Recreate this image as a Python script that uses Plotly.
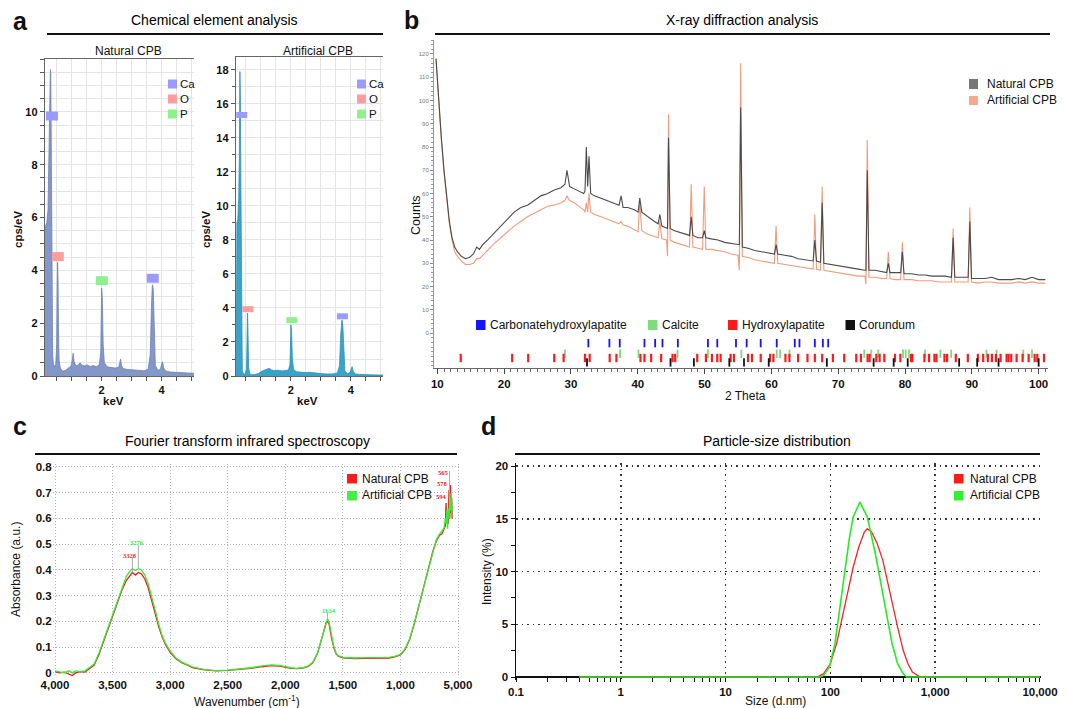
import plotly.graph_objects as go

W, H = 1068, 708
FONT = "Arial, Liberation Sans, sans-serif"

def px(x):
    return x / W

def py(y):
    return 1 - y / H

# ---------------- DATA ----------------
# (a) EDS spectra
eds_nat_kev = [0.10, 0.13, 0.17, 0.21, 0.245, 0.27, 0.29, 0.30, 0.315, 0.33, 0.345, 0.365, 0.39, 0.43, 0.47, 0.50, 0.515, 0.53, 0.545, 0.56,
               0.58, 0.62, 0.70, 0.80, 0.90, 0.98, 1.02, 1.05, 1.08, 1.14, 1.22, 1.28, 1.33, 1.42, 1.52, 1.62, 1.72, 1.82, 1.92, 1.97,
               2.00, 2.02, 2.05, 2.09, 2.18, 2.30, 2.45, 2.57, 2.61, 2.63, 2.66, 2.72, 2.85, 3.00, 3.20, 3.40, 3.55, 3.62, 3.66, 3.69,
               3.72, 3.75, 3.79, 3.87, 3.96, 4.00, 4.03, 4.07, 4.15, 4.30, 4.50, 4.70, 4.90, 5.10]
eds_nat_cps = [5.6, 5.7, 5.8, 6.3, 8.3, 10.5, 11.6, 11.5, 9.5, 6.0, 2.8, 0.8, 0.45, 0.35, 0.45, 1.2, 3.0, 4.3, 3.6, 1.6,
               0.6, 0.3, 0.18, 0.22, 0.3, 0.38, 0.6, 0.86, 0.55, 0.38, 0.42, 0.5, 0.42, 0.38, 0.42, 0.36, 0.40, 0.35, 0.42, 0.9,
               3.33, 3.0, 1.2, 0.5, 0.35, 0.32, 0.3, 0.33, 0.55, 0.64, 0.4, 0.28, 0.25, 0.23, 0.21, 0.2, 0.25, 0.8, 2.6, 3.45,
               3.3, 1.5, 0.4, 0.22, 0.25, 0.45, 0.54, 0.3, 0.18, 0.15, 0.13, 0.12, 0.11, 0.1]
eds_art_kev = [0.15, 0.18, 0.20, 0.23, 0.26, 0.28, 0.30, 0.315, 0.33, 0.345, 0.36, 0.38, 0.42, 0.47, 0.52, 0.54, 0.555, 0.57, 0.59, 0.63,
               0.72, 0.82, 0.92, 1.02, 1.12, 1.22, 1.28, 1.34, 1.45, 1.58, 1.70, 1.82, 1.92, 1.97, 2.00, 2.02, 2.05, 2.09, 2.18, 2.30,
               2.50, 2.62, 2.70, 2.85, 3.00, 3.20, 3.40, 3.55, 3.62, 3.66, 3.70, 3.73, 3.76, 3.80, 3.88, 3.97, 4.01, 4.04, 4.08, 4.16,
               4.30, 4.50, 4.70, 4.90, 5.10]
eds_art_cps = [0.3, 0.5, 9.0, 9.2, 10.5, 12.6, 17.9, 16.5, 12.0, 6.0, 1.5, 0.3, 0.12, 0.1, 0.4, 2.0, 3.7, 2.5, 0.5, 0.12,
               0.08, 0.1, 0.15, 0.28, 0.33, 0.38, 0.45, 0.36, 0.32, 0.34, 0.3, 0.32, 0.36, 0.7, 3.0, 2.7, 1.0, 0.4, 0.25, 0.22,
               0.2, 0.22, 0.2, 0.16, 0.14, 0.12, 0.12, 0.18, 0.6, 2.4, 3.3, 3.0, 1.3, 0.3, 0.14, 0.2, 0.4, 0.55, 0.25, 0.12,
               0.09, 0.07, 0.06, 0.06, 0.05]
# element label boxes on the EDS peaks
eds_elements = ["Ca", "O", "P"]
eds_elem_colors = {"Ca": "#9a9aff", "O": "#ff9d9d", "P": "#8ef08e"}
nat_lbl_elem = ["Ca", "O", "P", "Ca"]
nat_lbl_kev = [0.343, 0.537, 2.005, 3.705]
nat_lbl_cps = [9.84, 4.52, 3.61, 3.70]
art_lbl_elem = ["Ca", "O", "P", "Ca"]
art_lbl_kev = [0.362, 0.567, 2.03, 3.717]
art_lbl_cps = [15.35, 3.93, 3.28, 3.51]

# (b) XRD patterns
xrd_2theta = [9.8, 10.2, 10.6, 11.0, 11.4, 11.8, 12.2, 12.6, 13.0, 13.6, 14.2, 14.8, 15.4, 15.9, 16.3, 16.8, 17.5, 18.5, 19.5, 20.5,
              21.5, 22.5, 23.5, 24.5, 25.5, 26.5, 27.5, 28.5, 29.1, 29.4, 29.8, 30.5, 31.2, 31.9, 32.1, 32.3, 32.5, 32.7, 32.95, 33.5,
              34.5, 35.5, 36.5, 37.2, 37.5, 37.8, 38.5, 39.5, 40.05, 40.3, 40.6, 41.5, 42.5, 43.05, 43.3, 43.6, 44.3, 44.45, 44.6, 44.85,
              45.5, 46.5, 47.5, 47.75, 48.0, 48.25, 49.0, 49.7, 49.95, 50.2, 51.0, 52.0, 53.0, 54.0, 55.0, 55.2, 55.4, 55.65, 56.5, 57.5,
              58.5, 59.5, 60.45, 60.7, 60.95, 62.0, 63.0, 64.0, 65.0, 66.25, 66.5, 66.75, 67.35, 67.6, 67.85, 69.0, 70.0, 71.0, 72.0, 73.0,
              74.0, 74.15, 74.35, 74.6, 75.5, 76.5, 77.25, 77.5, 77.75, 78.5, 79.35, 79.6, 79.85, 81.0, 82.0, 83.0, 84.0, 85.0, 86.0, 86.95,
              87.2, 87.45, 88.5, 89.45, 89.7, 89.95, 91.0, 92.0, 93.0, 94.0, 95.0, 96.0, 97.0, 98.0, 99.0, 100.0, 101.0]
xrd_natural = [118, 100, 84, 70, 58, 48, 41, 37, 35, 33, 32, 32.5, 34, 37, 36, 38, 40, 43, 46, 49,
               52, 54, 55, 57, 59, 60, 61.5, 62.5, 64, 70, 63, 62, 61, 60, 61, 80, 63, 76, 60, 59,
               58, 57, 56, 55, 59, 54, 54, 53, 52, 58, 52, 50, 48, 47, 51, 46, 45, 45, 84, 45,
               44, 43, 42, 42, 50, 42, 41, 41, 44, 41, 40.5, 40, 39, 38.5, 38, 38, 97, 37, 36.5, 35.5,
               35, 34.5, 34, 38, 34, 33.5, 33, 32, 31.5, 31, 40, 31, 30.5, 56, 30, 29.5, 29, 28.5, 28, 27.5,
               27, 27, 70, 27, 27, 26.5, 26, 30, 26, 26, 26, 35, 25.5, 25.5, 25, 25, 24.5, 24.5, 24.5, 24,
               41, 24, 24, 24, 48, 23.5, 23.5, 23.5, 24, 23, 23, 23, 23.5, 23, 24, 23, 23]
xrd_artificial = [118, 99, 83, 69, 57, 47, 40, 35, 33, 31, 29.5, 29.5, 30, 32, 32, 33.5, 35.5, 38.5, 41, 43.5,
                  46, 48, 50, 51.5, 53, 54.5, 55, 56, 57, 59, 57, 56, 54.5, 53, 52, 56, 52, 60, 52, 51,
                  50, 49, 48, 47, 48, 46.5, 46, 44.5, 43.5, 56, 44, 42.5, 41.5, 41, 48, 40.5, 40, 33, 94, 40,
                  39, 38, 37, 37, 64, 37, 36.5, 36, 63, 36, 36, 35.5, 35, 34, 33.5, 27, 116, 33, 32.5, 31.5,
                  31, 30.5, 30, 46, 30, 29.5, 29, 28.5, 28, 27.5, 51, 27.5, 27, 63, 27, 26.5, 26, 25.5, 25, 24.5,
                  24.5, 21, 83, 24, 24, 23.5, 23.5, 35, 23.5, 23, 23, 39, 23, 23, 22.5, 22.5, 22.5, 22, 22, 22,
                  45, 22, 22, 22, 54, 22, 21.5, 22, 22, 21.5, 21.5, 21.5, 22, 21.5, 22, 21.5, 21.5]
# reference phase stick positions (2 theta)
phase_names = ["Carbonatehydroxylapatite", "Calcite", "Hydroxylapatite", "Corundum"]
phase_colors = ["#1414ff", "#7ddc7d", "#ff1a1a", "#111111"]
phase_carbonate = [32.6, 35.75, 37.3, 41.0, 42.6, 43.7, 46.0, 50.5, 51.9, 54.7, 56.3, 58.4, 60.8, 63.5, 64.2, 66.5, 67.7, 68.5]
phase_calcite = [29.1, 37.35, 40.1, 45.95, 50.5, 55.5, 60.8, 61.3, 62.7, 73.9, 74.95, 76.0, 79.7, 80.1, 80.6, 83.0, 85.3, 86.9,
                 92.2, 93.7, 97.7, 99.0]
phase_hydroxyl = [13.5, 21.2, 23.6, 27.5, 28.9, 32.1, 32.8, 35.8, 36.8, 40.4, 41.0, 42.0, 43.5, 45.2, 45.6, 48.9, 50.2, 51.1,
                  51.9, 52.4, 53.9, 54.4, 56.5, 57.1, 58.4, 59.8, 60.3, 62.1, 62.7, 64.0, 65.4, 66.5, 67.6, 69.2, 70.9, 72.7,
                  73.4, 74.4, 74.7, 75.7, 76.2, 76.9, 78.5, 79.3, 80.9, 81.1, 82.9, 83.6, 84.4, 84.7, 85.9, 86.3, 87.6, 89.4,
                  90.9, 91.7, 92.4, 93.0, 93.6, 94.3, 95.2, 95.5, 95.9, 96.7, 97.6, 98.5, 99.4, 99.8, 100.8]
phase_corundum = [32.4, 44.9, 48.4, 53.7, 55.9, 59.6, 68.3, 75.3, 78.3, 80.4, 88.1, 90.8, 94.0, 100.0]
phase_positions = [phase_carbonate, phase_calcite, phase_hydroxyl, phase_corundum]
phase_row_level = [-4.3, -8.9, -10.7, -12.6]

# (c) FTIR spectra
ft_wavenumber = [4000, 3960, 3920, 3880, 3850, 3820, 3780, 3740, 3700, 3660, 3620, 3580, 3540, 3500, 3460, 3420, 3380, 3350, 3328, 3300,
                 3276, 3250, 3220, 3190, 3160, 3130, 3100, 3070, 3040, 3000, 2950, 2900, 2850, 2800, 2700, 2600, 2500, 2400, 2300, 2200,
                 2120, 2050, 2000, 1950, 1900, 1850, 1800, 1760, 1720, 1690, 1660, 1645, 1634, 1620, 1600, 1580, 1560, 1540, 1500, 1400,
                 1300, 1200, 1100, 1050, 1000, 960, 920, 880, 840, 800, 760, 720, 690, 660, 640, 620, 610, 604, 598, 590,
                 585, 578, 572, 565, 560, 555, 550]
ft_natural = [0.005, 0.0, 0.003, -0.005, -0.01, 0.0, 0.005, 0.003, 0.015, 0.03, 0.07, 0.12, 0.17, 0.22, 0.27, 0.32, 0.36, 0.38, 0.39, 0.38,
              0.39, 0.385, 0.365, 0.33, 0.285, 0.23, 0.18, 0.14, 0.11, 0.08, 0.055, 0.04, 0.03, 0.02, 0.012, 0.008, 0.01, 0.013, 0.018, 0.024,
              0.028, 0.026, 0.022, 0.018, 0.017, 0.019, 0.025, 0.04, 0.075, 0.12, 0.17, 0.195, 0.2, 0.19, 0.14, 0.1, 0.075, 0.065, 0.058, 0.056,
              0.057, 0.057, 0.058, 0.062, 0.07, 0.09, 0.13, 0.19, 0.26, 0.33, 0.4, 0.47, 0.51, 0.535, 0.54, 0.56, 0.57, 0.66, 0.58, 0.6,
              0.58, 0.71, 0.6, 0.73, 0.62, 0.68, 0.6]
ft_artificial = [0.008, 0.005, 0.0, 0.008, 0.0, 0.008, 0.005, 0.008, 0.02, 0.035, 0.075, 0.125, 0.175, 0.225, 0.28, 0.33, 0.375, 0.395, 0.405, 0.398,
                 0.405, 0.4, 0.38, 0.345, 0.3, 0.245, 0.19, 0.145, 0.115, 0.085, 0.058, 0.042, 0.032, 0.022, 0.013, 0.009, 0.011, 0.015, 0.02, 0.027,
                 0.031, 0.029, 0.024, 0.02, 0.018, 0.02, 0.027, 0.042, 0.078, 0.125, 0.178, 0.203, 0.21, 0.198, 0.148, 0.105, 0.078, 0.067, 0.06, 0.058,
                 0.059, 0.059, 0.06, 0.064, 0.072, 0.093, 0.133, 0.193, 0.263, 0.333, 0.403, 0.473, 0.515, 0.54, 0.55, 0.565, 0.6, 0.58, 0.63, 0.56,
                 0.64, 0.6, 0.68, 0.63, 0.7, 0.6, 0.65]
ft_lbl_text = ["3328", "3276", "1634", "565", "578", "594"]
ft_lbl_series = ["nat", "art", "art", "nat", "nat", "nat"]
ft_lbl_wn = [3348, 3290, 1617, 625, 632, 640]
ft_lbl_abs = [0.458, 0.506, 0.242, 0.778, 0.734, 0.685]
ft_lead_wn = [3328, 3276, 1634, 574]
ft_lead_from = [0.39, 0.405, 0.21, 0.62]
ft_lead_to = [0.448, 0.496, 0.234, 0.785]

# (d) particle size distribution
dls_nat_size = [0.4, 60, 75, 86.3, 99.8, 114.6, 134.8, 152.3, 165.2, 186.6, 210.9, 225.0, 247.9, 280.1, 316.4, 343.4, 387.8, 438.1,
                494.8, 550.0, 606.2, 684.7, 720, 10000]
dls_nat_int = [0, 0, 0, 0.32, 1.26, 3.16, 6.32, 8.85, 10.43, 12.32, 13.74, 14.06, 13.74, 12.64, 11.06, 9.48, 6.95, 4.74,
               2.53, 1.26, 0.47, 0.09, 0, 0]
dls_art_size = [0.4, 60, 80, 86.3, 97.9, 110.6, 124.9, 141.2, 152.3, 165.2, 191.1, 225.0, 247.9, 268.6, 303.5, 343.4, 387.8, 438.1,
                494.8, 536.0, 10000]
dls_art_int = [0, 0, 0, 0.16, 0.95, 3.16, 6.95, 11.06, 13.27, 15.17, 16.59, 15.17, 13.27, 11.69, 8.85, 6.00, 3.16, 1.26,
               0.32, 0, 0]

NAT_NAME, ART_NAME = "Natural CPB", "Artificial CPB"

# ---------------- FIGURE ----------------
fig = go.Figure()

# EDS
fig.add_trace(go.Scatter(x=eds_nat_kev, y=eds_nat_cps, mode="lines", fill="tozeroy", fillcolor="#8397c8",
                         line=dict(color="#6b80b6", width=0.8), name=NAT_NAME, showlegend=False, xaxis="x", yaxis="y"))
fig.add_trace(go.Scatter(x=eds_art_kev, y=eds_art_cps, mode="lines", fill="tozeroy", fillcolor="#3aa3c9",
                         line=dict(color="#2a92bb", width=0.8), name=ART_NAME, showlegend=False, xaxis="x2", yaxis="y2"))

# XRD
fig.add_trace(go.Scatter(x=xrd_2theta, y=xrd_artificial, mode="lines", line=dict(color="#f29b7c", width=1.1),
                         name=ART_NAME, showlegend=False, xaxis="x3", yaxis="y3"))
fig.add_trace(go.Scatter(x=xrd_2theta, y=xrd_natural, mode="lines", line=dict(color="#4a4a4a", width=1.1),
                         name=NAT_NAME, showlegend=False, xaxis="x3", yaxis="y3"))
for name, color, pos, lvl in zip(phase_names, phase_colors, phase_positions, phase_row_level):
    fig.add_trace(go.Scatter(x=pos, y=[lvl] * len(pos), mode="markers", name=name, showlegend=False,
                             marker=dict(symbol="line-ns", size=6, line=dict(color=color, width=2.2 if name == "Hydroxylapatite" else 1.8)),
                             xaxis="x3", yaxis="y3"))

# FTIR
FT_RED, FT_GREEN = "#ee1c1c", "#35ec35"
fig.add_trace(go.Scatter(x=ft_wavenumber, y=ft_natural, mode="lines", line=dict(color=FT_RED, width=1.3),
                         name=NAT_NAME, showlegend=False, xaxis="x4", yaxis="y4"))
fig.add_trace(go.Scatter(x=ft_wavenumber, y=ft_artificial, mode="lines", line=dict(color=FT_GREEN, width=1.3),
                         name=ART_NAME, showlegend=False, xaxis="x4", yaxis="y4"))

# DLS
fig.add_trace(go.Scatter(x=dls_nat_size, y=dls_nat_int, mode="lines", line=dict(color="#ff2020", width=1.3),
                         name=NAT_NAME, showlegend=False, xaxis="x5", yaxis="y5"))
fig.add_trace(go.Scatter(x=dls_art_size, y=dls_art_int, mode="lines", line=dict(color="#22ee22", width=1.6),
                         name=ART_NAME, showlegend=False, xaxis="x5", yaxis="y5"))

shapes = []
annotations = []


def txt(x, y, s, size=12, bold=False, anchor="center", color="#111", angle=0, family=FONT):
    annotations.append(dict(x=px(x), y=py(y), xref="paper", yref="paper", text=s, showarrow=False,
                            xanchor=anchor, yanchor="middle", textangle=angle,
                            font=dict(size=size, family=family, color=color, weight="bold" if bold else "normal")))


def rect(x0, y0, x1, y1, color):
    shapes.append(dict(type="rect", xref="paper", yref="paper", x0=px(x0), x1=px(x1), y0=py(y1), y1=py(y0),
                       fillcolor=color, line=dict(width=0)))


def hline(x0, x1, y, width=2, color="#111"):
    shapes.append(dict(type="line", xref="paper", yref="paper", x0=px(x0), x1=px(x1), y0=py(y), y1=py(y),
                       line=dict(color=color, width=width)))


# panel letters, titles, underlines
txt(20, 21, "a", size=25, bold=True)
txt(411, 20, "b", size=25, bold=True)
txt(20, 426, "c", size=25, bold=True)
txt(488, 426, "d", size=25, bold=True)
txt(214, 20, "Chemical element analysis", size=14, color="#000")
txt(742, 20, "X-ray diffraction analysis", size=14, color="#000")
txt(247, 441, "Fourier transform infrared spectroscopy", size=14, color="#000")
txt(777, 441, "Particle-size distribution", size=14, color="#000")
hline(47, 383, 34)
hline(435, 1050, 34)
hline(35, 457, 454)
hline(515, 1040, 454)

# EDS sub titles, axis titles, keys
txt(128, 51, NAT_NAME, size=12)
txt(318, 51, ART_NAME, size=12)
txt(18, 230, "cps/eV", size=11.5, bold=True, angle=-90)
txt(206, 230, "cps/eV", size=11.5, bold=True, angle=-90)
txt(113, 401, "keV", size=11.5, bold=True)
txt(307, 401, "keV", size=11.5, bold=True)
for kx in (168, 357):
    for i, el in enumerate(eds_elements):
        yc = 84 + 15 * i
        rect(kx, yc - 4.5, kx + 9, yc + 4.5, eds_elem_colors[el])
        txt(kx + 10, yc, el, size=11.5, anchor="left")

# EDS peak label boxes (anchored to data, pixel-sized)
for xa, ya, lbl_e, lbl_k, lbl_c, wpx, hpx in (("x", "y", nat_lbl_elem, nat_lbl_kev, nat_lbl_cps, 12, 9),
                                               ("x2", "y2", art_lbl_elem, art_lbl_kev, art_lbl_cps, 11, 6)):
    for e, k, c in zip(lbl_e, lbl_k, lbl_c):
        shapes.append(dict(type="rect", xref=xa, yref=ya, xsizemode="pixel", ysizemode="pixel",
                           xanchor=k, yanchor=c, x0=-wpx / 2, x1=wpx / 2, y0=-hpx / 2, y1=hpx / 2,
                           fillcolor=eds_elem_colors[e], line=dict(width=0)))

# XRD texts and keys
txt(416, 215, "Counts", size=12.5, angle=-90)
txt(745, 396, "2 Theta", size=12)
rect(969, 79, 978, 89, "#777777")
txt(985, 84, NAT_NAME, size=12, anchor="left")
rect(969, 96, 978, 105, "#f6a98b")
txt(985, 100.5, ART_NAME, size=12, anchor="left")
for name, color, kx in zip(phase_names, phase_colors, [476, 648, 728, 845.5]):
    rect(kx, 320, kx + 9.5, 330, color)
    txt(kx + 11.5, 325, name, size=12, anchor="left")

# FTIR texts, keys, peak labels
txt(16, 570, "Absorbance (a.u.)", size=12, angle=-90)
txt(247, 701, "Wavenumber (cm<sup>-1</sup>)", size=12)
rect(347, 474, 357, 483.5, "#ff1a1a")
txt(360, 479, NAT_NAME, size=12, anchor="left")
rect(347, 491, 357, 500.5, "#44ee44")
txt(360, 495.5, ART_NAME, size=12, anchor="left")
for wn, a0, a1 in zip(ft_lead_wn, ft_lead_from, ft_lead_to):
    shapes.append(dict(type="line", xref="x4", yref="y4", x0=wn, x1=wn, y0=a0, y1=a1,
                       line=dict(color="#aaaaaa", width=1)))
for t, s, wn, ab in zip(ft_lbl_text, ft_lbl_series, ft_lbl_wn, ft_lbl_abs):
    annotations.append(dict(x=wn, y=ab, xref="x4", yref="y4", text=t, showarrow=False,
                            font=dict(size=6.5, family="Liberation Serif, serif", color=FT_RED if s == "nat" else FT_GREEN,
                                      weight="bold")))

# DLS texts and keys
txt(487, 572, "Intensity (%)", size=12, angle=-90)
txt(775, 701, "Size (d.nm)", size=12)
rect(954, 474, 963.5, 483.5, "#ff1a1a")
txt(968, 479, NAT_NAME, size=12, anchor="left")
rect(954, 491, 963.5, 500.5, "#33ee33")
txt(968, 495.5, ART_NAME, size=12, anchor="left")

# ---------------- AXES ----------------
TICKF = dict(family=FONT, size=11, color="#111", weight="bold")
EDS_GRID = "#e4e4e4"

eds_common_x = dict(tickmode="array", tickvals=[2, 4], ticktext=["2", "4"], showgrid=True, gridcolor=EDS_GRID, gridwidth=1,
                    showline=True, linecolor="#666", linewidth=1.2, mirror=True, ticks="outside", ticklen=4, tickcolor="#555",
                    tickfont=TICKF, zeroline=False, automargin=False,
                    minor=dict(tickmode="linear", tick0=0, dtick=0.5, ticks="outside", ticklen=4, tickcolor="#555",
                               showgrid=True, gridcolor=EDS_GRID, gridwidth=1))
eds_common_y = dict(tickmode="array", showgrid=True, gridcolor=EDS_GRID, gridwidth=1, showline=True, linecolor="#666",
                    linewidth=1.2, ticks="outside", ticklen=4, tickcolor="#555", tickfont=TICKF, zeroline=False, automargin=False)

layout = dict(
    width=W, height=H, margin=dict(l=0, r=0, t=0, b=0, autoexpand=False), paper_bgcolor="white", plot_bgcolor="white",
    font=dict(family=FONT, color="#111"), showlegend=False,
    xaxis=dict(domain=[px(45), px(194)], range=[0.11, 5.08], anchor="y", **eds_common_x),
    yaxis=dict(domain=[py(376), py(59)], range=[0, 12], anchor="x", tickvals=[0, 2, 4, 6, 8, 10],
               minor=dict(tickmode="linear", tick0=0, dtick=0.5, ticks="outside", ticklen=4, tickcolor="#555",
                          showgrid=True, gridcolor=EDS_GRID, gridwidth=1),
               **eds_common_y),
    xaxis2=dict(domain=[px(236), px(383)], range=[0.17, 5.07], anchor="y2", **eds_common_x),
    yaxis2=dict(domain=[py(376), py(57)], range=[0, 18.76], anchor="x2", tickvals=list(range(0, 19, 2)),
                minor=dict(tickmode="linear", tick0=0, dtick=1, ticks="outside", ticklen=3, tickcolor="#555",
                           showgrid=True, gridcolor=EDS_GRID, gridwidth=1),
                **eds_common_y),
    xaxis3=dict(domain=[px(434), px(1048)], range=[9.5, 101.4], anchor="y3", tickmode="array", tickvals=list(range(10, 101, 10)),
                showgrid=False, showline=True, linecolor="#666", linewidth=1, ticks="outside", ticklen=5, tickcolor="#444",
                tickfont=dict(family=FONT, size=11.5, color="#111", weight="bold"), zeroline=False, automargin=False,
                minor=dict(tickmode="linear", tick0=10, dtick=1, ticks="outside", ticklen=3, tickcolor="#666")),
    yaxis3=dict(domain=[py(368), py(40)], range=[-15, 126], anchor="x3", tickmode="array", tickvals=list(range(0, 121, 10)),
                showgrid=False, showline=True, linecolor="#999", linewidth=1, ticks="outside", ticklen=3, tickcolor="#888",
                tickfont=dict(family=FONT, size=6, color="#777"), zeroline=False, automargin=False,
                minor=dict(tickmode="linear", tick0=0, dtick=2, ticks="outside", ticklen=2, tickcolor="#999")),
    xaxis4=dict(domain=[px(52.7), px(460.3)], range=[4020, 480], anchor="y4", tickmode="array",
                tickvals=[4000, 3500, 3000, 2500, 2000, 1500, 1000, 500],
                ticktext=["4,000", "3,500", "3,000", "2,500", "2,000", "1,500", "1,000", "5,000"],
                showgrid=True, gridcolor="#b0b0b0", griddash="1px,2px", gridwidth=1, showline=False, ticks="",
                tickfont=dict(family=FONT, size=11.5, color="#111", weight="bold"), zeroline=False, automargin=False),
    yaxis4=dict(domain=[py(676), py(464.4)], range=[-0.012, 0.81], anchor="x4", tickmode="array",
                tickvals=[0, 0.1, 0.2, 0.3, 0.4, 0.5, 0.6, 0.7, 0.8],
                ticktext=["0", "0.1", "0.2", "0.3", "0.4", "0.5", "0.6", "0.7", "0.8"],
                showgrid=True, gridcolor="#b0b0b0", griddash="1px,2px", gridwidth=1, showline=False, ticks="",
                tickfont=dict(family=FONT, size=11.5, color="#111", weight="bold"), zeroline=False, automargin=False),
    xaxis5=dict(type="log", domain=[px(516), px(1040.5)], range=[-1, 4.005], anchor="free", position=py(677),
                tickmode="array", tickvals=[0.1, 1, 10, 100, 1000, 10000],
                ticktext=["0.1", "1", "10", "100", "1,000", "10,000"],
                showgrid=True, gridcolor="#333", griddash="1.5px,4px", gridwidth=1.5, showline=True, linecolor="#111",
                linewidth=2, ticks="outside", ticklen=4, tickcolor="#111", layer="below traces",
                tickfont=dict(family=FONT, size=11.5, color="#111", weight="bold"), zeroline=False, automargin=False,
                minor=dict(tickmode="array", tickvals=[m * 10 ** e for e in range(-1, 4) for m in range(2, 10)],
                           ticks="outside", ticklen=4, tickcolor="#111", showgrid=False)),
    yaxis5=dict(domain=[py(680.2), py(463.4)], range=[-0.3, 20.25], anchor="x5", tickmode="array", tickvals=[0, 5, 10, 15, 20],
                showgrid=True, gridcolor="#333", griddash="1.5px,4px", gridwidth=1.5, showline=True, linecolor="#111",
                linewidth=1.5, ticks="outside", ticklen=4, tickcolor="#111", layer="below traces",
                tickfont=dict(family=FONT, size=11.5, color="#111", weight="bold"), zeroline=False, automargin=False,
                minor=dict(tickmode="linear", tick0=0, dtick=2.5, ticks="outside", ticklen=4, tickcolor="#111", showgrid=False)),
    shapes=shapes, annotations=annotations,
)
fig.update_layout(**layout)
fig.write_html("out.html", config={"displayModeBar": False, "staticPlot": True},
               post_script="document.body.style.margin='0px';document.body.style.padding='0px';"
                           "document.body.style.overflow='hidden';")
